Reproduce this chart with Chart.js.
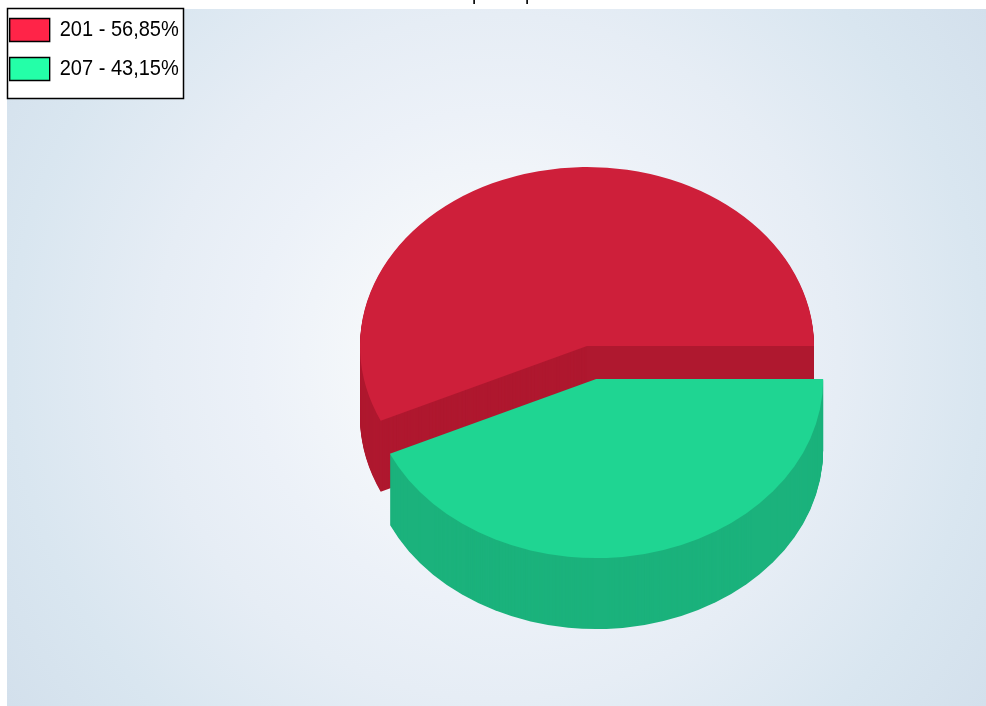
<!DOCTYPE html>
<html>
<head>
<meta charset="utf-8">
<title>Pie</title>
<script src="https://cdn.jsdelivr.net/npm/chart.js@4/dist/chart.umd.min.js"></script>
<style>
  html, body { margin: 0; padding: 0; background: #fff; overflow: hidden; }
  canvas { display: block; }
</style>
</head>
<body>
<canvas id="grafico" width="986" height="706"></canvas>
<script>
// Dados
const categorias = ["201", "207"];
const valores = [56.85, 43.15];
const tituloTexto = "Empresa por";

// Cores
const coresTopo = ["#ce1f3a", "#1fd592"];
const coresLateral = ["#af182f", "#1bb27c"];
const coresLegenda = ["#ff2448", "#24ffa8"];

// Efeito 3D
const centroX = 587, centroY = 346;
const raio = 227;
const achatamento = 0.7885;
const profundidade = 71;
const afastamento = [0, 43];

// Legenda com o texto um pouco estreito, como na original
const legendaEscalaX = 0.91;

const total = valores.reduce((a, b) => a + b, 0);

// Fundo e caixa da legenda
const fundo = {
  id: "fundo",
  beforeDraw(chart) {
    const ctx = chart.ctx;
    const g = ctx.createRadialGradient(497, 357, 0, 497, 357, 600);
    g.addColorStop(0, "#fbfcfd");
    g.addColorStop(0.23, "#f4f7fa");
    g.addColorStop(0.41, "#ecf1f8");
    g.addColorStop(0.57, "#e6edf5");
    g.addColorStop(0.81, "#d9e6f0");
    g.addColorStop(1, "#d3e0ec");
    ctx.save();
    ctx.fillStyle = g;
    ctx.fillRect(7, 9, 979, 697);
    ctx.fillStyle = "#fff";
    ctx.strokeStyle = "#000";
    ctx.lineWidth = 1.5;
    ctx.fillRect(7.5, 8.5, 176, 90);
    ctx.strokeRect(7.5, 8.5, 176, 90);
    ctx.restore();
  },
  afterLayout(chart) {
    // legenda e titulo ficam em posicao fixa, o titulo cortado no topo
    const leg = chart.legend;
    leg.left = 9.7 / legendaEscalaX - 16;
    leg.top = 2.5;
    chart.titleBlock.top = -17;
    chart.titleBlock.left += 5;
    chart.titleBlock.right += 5;
    if (!leg.drawOriginal) {
      leg.drawOriginal = leg.draw;
      leg.draw = function (area) {
        chart.ctx.save();
        chart.ctx.scale(legendaEscalaX, 1);
        leg.drawOriginal(area);
        chart.ctx.restore();
      };
    }
  }
};

// Desenha as fatias achatadas, com a lateral por baixo
const pizza3d = {
  id: "pizza3d",
  beforeDatasetDraw(chart, args) {
    const ctx = chart.ctx;
    args.meta.data.forEach((arc, i) => {
      const meio = (arc.startAngle + arc.endAngle) / 2;
      const dx = Math.cos(meio) * afastamento[i];
      const dy = Math.sin(meio) * afastamento[i] * achatamento;
      const opcoes = arc.options;
      const desenha = (desce, cor) => {
        ctx.save();
        ctx.translate(centroX + dx, centroY + dy + desce);
        ctx.scale(1, achatamento);
        ctx.translate(-arc.x, -arc.y);
        arc.options = { ...opcoes, backgroundColor: cor };
        arc.draw(ctx);
        ctx.restore();
      };
      for (let k = profundidade; k > 0; k--) desenha(k, coresLateral[i]);
      desenha(0, coresTopo[i]);
      arc.options = opcoes;
    });
    return false;
  }
};

new Chart(document.getElementById("grafico"), {
  type: "pie",
  data: {
    labels: categorias,
    datasets: [{ data: valores, backgroundColor: coresTopo, borderWidth: 0 }]
  },
  options: {
    responsive: false,
    animation: false,
    radius: raio,
    rotation: 90 + 360 * valores[1] / total,
    plugins: {
      title: {
        display: true,
        text: tituloTexto,
        color: "#000",
        padding: 0,
        font: { family: "'Liberation Sans'", size: 19, weight: "normal" }
      },
      legend: {
        position: "chartArea",
        align: "start",
        labels: {
          boxWidth: 40 / legendaEscalaX,
          boxHeight: 23,
          padding: 16,
          color: "#000",
          font: { family: "'Liberation Sans'", size: 22 },
          generateLabels: () => categorias.map((c, i) => ({
            text: c + " - " + valores[i].toFixed(2).replace(".", ",") + "%",
            fillStyle: coresLegenda[i],
            strokeStyle: "#000",
            lineWidth: 1.5,
            index: i
          }))
        }
      },
      tooltip: { enabled: false }
    }
  },
  plugins: [fundo, pizza3d]
});
</script>
</body>
</html>
